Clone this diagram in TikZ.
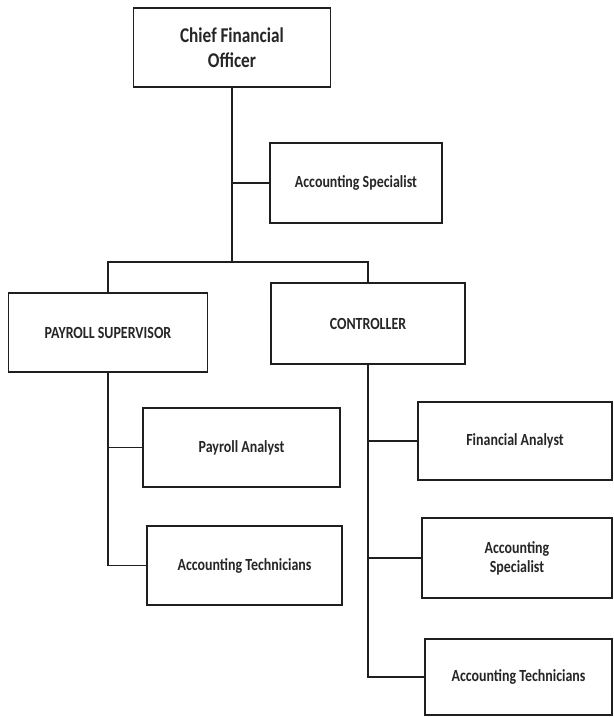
\documentclass[tikz,border=0pt]{standalone}
\usepackage{fontspec}
\setmainfont{Carlito}[FakeStretch=0.82]
\begin{document}
\begin{tikzpicture}[x=1pt,y=-1pt,
  box/.style={draw=black!88, line width=1.3pt, fill=white, rectangle,
    inner sep=0pt, align=center, font=\bfseries\fontsize{17}{19}\selectfont, text=black!85},
  link/.style={draw=black!88, line width=1.3pt}]
\useasboundingbox (0,0) rectangle (613,717);

% top level
\node[box, minimum width=197pt, minimum height=79pt,
      font=\bfseries\fontsize{21}{25}\selectfont] (cfo) at (232,47.5) {Chief Financial\\Officer};
\node[box, minimum width=172pt, minimum height=80pt] (as1) at (356,183) {Accounting Specialist};

% second level
\node[box, minimum width=199pt, minimum height=79pt] (pay) at (108,332.5) {PAYROLL SUPERVISOR};
\node[box, minimum width=194pt, minimum height=81pt] (ctl) at (368,323.5) {CONTROLLER};

% payroll branch
\node[box, minimum width=197pt, minimum height=79pt] (pa)  at (241.5,447.5) {Payroll Analyst};
\node[box, minimum width=195pt, minimum height=79pt] (at1) at (244.5,565.5) {Accounting Technicians};

% controller branch
\node[box, minimum width=194pt, minimum height=78pt] (fa)  at (515,441) {Financial Analyst};
\node[box, minimum width=190pt, minimum height=80pt] (as2) at (517,558) {Accounting\\Specialist};
\node[box, minimum width=187pt, minimum height=76pt] (at2) at (518.5,677) {Accounting Technicians};

% junction of the two department heads
\coordinate (bar) at (232,262);

% connectors
\draw[link] (cfo.south) -- (bar);
\draw[link] (cfo.south |- as1.west) -- (as1.west);
\draw[link] (pay.north) |- (bar) -| (ctl.north);
\draw[link] (pay.south) |- (at1.west);
\draw[link] (pay.south |- pa.west) -- (pa.west);
\draw[link] (ctl.south) |- (at2.west);
\draw[link] (ctl.south |- fa.west) -- (fa.west);
\draw[link] (ctl.south |- as2.west) -- (as2.west);
\end{tikzpicture}
\end{document}
